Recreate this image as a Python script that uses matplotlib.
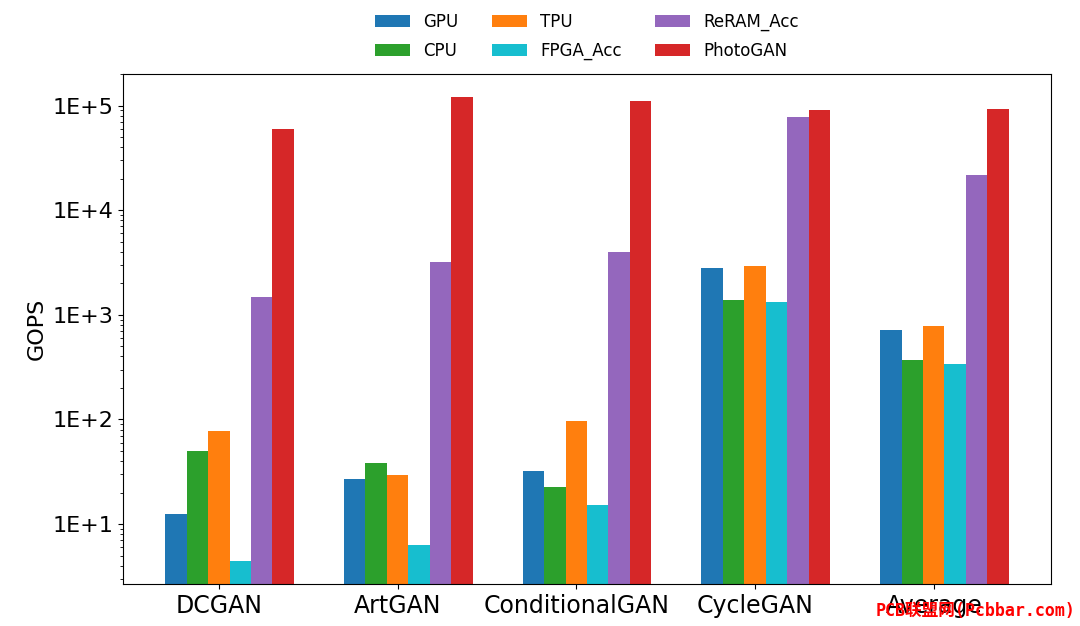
import numpy as np
import matplotlib
matplotlib.use("Agg")
import matplotlib.pyplot as plt
from matplotlib.ticker import FuncFormatter

# data (GOPS, log scale)
models = ["DCGAN", "ArtGAN", "ConditionalGAN", "CycleGAN", "Average"]
gpu = [12.4, 26.9, 32.4, 2790, 716]
cpu = [50.2, 38.0, 22.4, 1380, 370]
tpu = [76.9, 29.4, 97.2, 2950, 787]
fpga_acc = [4.4, 6.3, 15.3, 1320, 339]
reram_acc = [1490, 3220, 3980, 78400, 21600]
photogan = [59700, 120000, 111000, 90000, 94000]

series = [
    ("GPU", gpu, "tab:blue"),
    ("CPU", cpu, "tab:green"),
    ("TPU", tpu, "tab:orange"),
    ("FPGA_Acc", fpga_acc, "tab:cyan"),
    ("ReRAM_Acc", reram_acc, "tab:purple"),
    ("PhotoGAN", photogan, "tab:red"),
]

fig = plt.figure(figsize=(10.8, 6.26), dpi=100)
ax = fig.add_axes([0.1139, 0.0671, 0.8592, 0.8147])

x = np.arange(len(models))
w = 0.12
for j, (name, vals, col) in enumerate(series):
    ax.bar(x + (j - 2) * w, vals, w, color=col, label=name)

ax.set_yscale("log")
ax.set_ylim(2.67, 2.01e5)
ax.yaxis.set_major_formatter(FuncFormatter(lambda v, p: "1E+%d" % round(np.log10(v))))
ax.set_xticks(x)
ax.set_xticklabels(models)
ax.tick_params(axis="x", labelsize=17)
ax.tick_params(axis="y", labelsize=16)
ax.set_ylabel("GOPS", fontsize=16)

ax.legend(loc="lower center", bbox_to_anchor=(0.5, 1.0), ncol=3, frameon=False,
          fontsize=12, handlelength=2.1, labelspacing=0.65, borderaxespad=0.45)

# watermark (sits over the last tick label, as in the source image)
fig.text(0.996, 0.01, "PCB联盟网(Pcbbar.com)", color="red", fontsize=12,
         fontweight="bold", ha="right", va="bottom",
         family=["DejaVu Sans Mono", "Noto Sans CJK SC"])

fig.savefig("out.png", dpi=100)
